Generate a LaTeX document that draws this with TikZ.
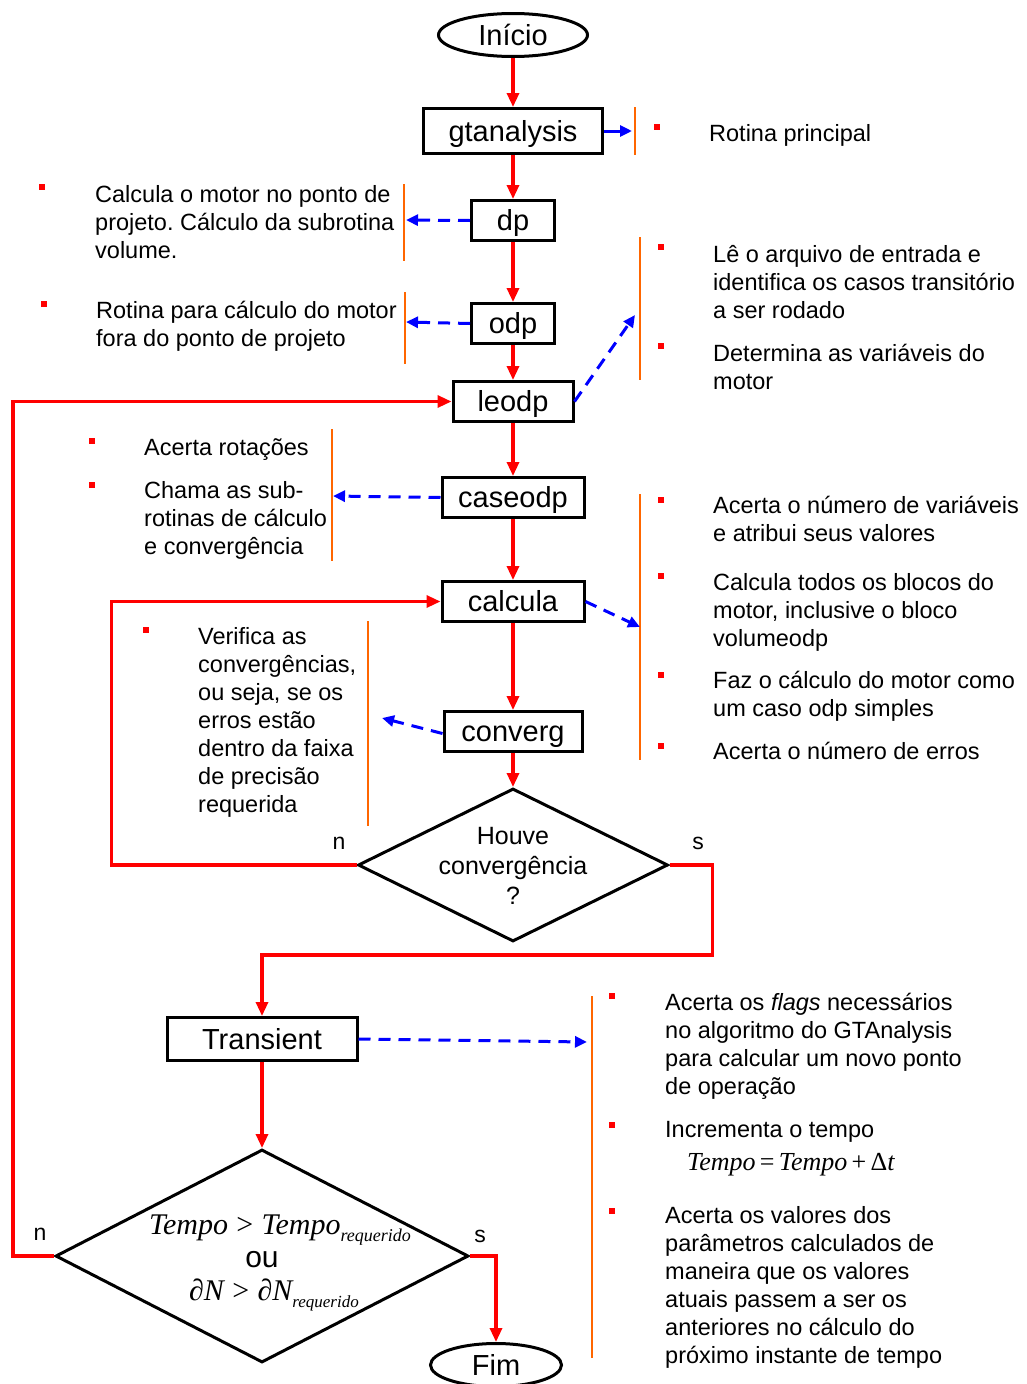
\documentclass[tikz,border=0pt]{standalone}
\usepackage{fontspec}
\setmainfont{Liberation Sans}
\newfontfamily\tnr{Liberation Serif}
\usetikzlibrary{arrows.meta, positioning, shapes.geometric}
\frenchspacing

\definecolor{flowred}{RGB}{255,0,0}
\definecolor{callblue}{RGB}{0,0,255}
\definecolor{barorange}{RGB}{255,102,0}

\begin{document}
\begin{tikzpicture}[
    x=1pt, y=-1pt,
    terminal/.style={
        ellipse, draw, line width=3pt, inner sep=0pt,
        minimum width=149pt, minimum height=43pt,
        font=\fontsize{29}{30}\selectfont
    },
    block/.style={
        rectangle, draw, line width=3pt, inner sep=0pt,
        text height=23pt, text depth=3pt,
        minimum height=40pt, font=\fontsize{29}{30}\selectfont
    },
    decision/.style={diamond, draw, line width=3pt, inner sep=0pt},
    note/.style={
        anchor=north west, inner sep=0pt, align=left,
        font=\fontsize{23.5}{28}\selectfont
    },
    bullet/.style={rectangle, fill=flowred, inner sep=0pt, minimum size=6.5pt},
    bar/.style={draw=barorange, line width=2.5pt},
    flow/.style={draw=flowred, line width=3.2pt, -{Triangle[length=14pt,width=12pt]}},
    call/.style={draw=callblue, line width=3pt, dash pattern=on 12pt off 8pt,
        -{Triangle[length=12pt,width=11pt]}},
    yesno/.style={font=\fontsize{23}{28}\selectfont}
]
\useasboundingbox (0,0) rectangle (1027,1384);

% Main vertical blocks
\node[terminal] (inicio) at (513,35) {Início};
\node[block, minimum width=179pt, minimum height=45pt, below=49pt of inicio] (gtan) {gtanalysis};
\node[block, minimum width=83pt, below=44pt of gtan] (dp) {dp};
\node[block, minimum width=83pt, below=60pt of dp] (odp) {odp};
\node[block, minimum width=120pt, below=35pt of odp] (leodp) {leodp};
\node[block, minimum width=142pt, below=53pt of leodp] (caseodp) {caseodp};
\node[block, minimum width=142pt, below=61pt of caseodp] (calcula) {calcula};
\node[block, minimum width=138pt, below=87pt of calcula] (converg) {converg};
\node[decision, minimum width=310pt, minimum height=153pt, below=34pt of converg] (conv) {};
\node[align=center, font=\fontsize{25}{30}\selectfont] (convtxt) at (513,866) {Houve\\convergência\\?};

% Transient part
\node[block, minimum width=190pt, minimum height=43pt] (trans) at (262,1039) {Transient};
\node[decision, minimum width=413pt, minimum height=213pt, below=86pt of trans] (tempo) {};
\node[align=center, font=\fontsize{30}{33}\selectfont] (tempotxt) at (262,1263) {%
    \hspace{36pt}{\tnr\itshape Tempo\;{\upshape >}\;Tempo\raisebox{-7pt}{\fontsize{18}{18}\selectfont requerido}}\\
    ou\\
    \hspace{24pt}{\tnr{\upshape ∂}\itshape N\;{\upshape >}\;{\upshape ∂}N\raisebox{-7pt}{\fontsize{17}{17}\selectfont requerido}}};
\node[terminal, minimum width=131pt] (fim) at (496,1365) {Fim};

% Labels n / s
\node[yesno] (n1) at (339,843) {n};
\node[yesno] (s1) at (698,843) {s};
\node[yesno] (n2) at (40,1234) {n};
\node[yesno] (s2) at (480,1236) {s};

% Side notes
\node[bullet] (b1) at (657,127) {};
\node[note] (t1) at (709,124) {Rotina principal};
\node[bullet] (b2) at (42,187) {};
\node[note] (t2) at (95,185) {Calcula o motor no ponto de\\projeto. Cálculo da subrotina\\volume.};
\node[bullet] (b3) at (44,304) {};
\node[note] (t3) at (96,301) {Rotina para cálculo do motor\\fora do ponto de projeto};
\node[bullet] (b4) at (661,247) {};
\node[note] (t4) at (713,245) {Lê o arquivo de entrada e\\identifica os casos transitório\\a ser rodado};
\node[bullet] (b5) at (661,346) {};
\node[note] (t5) at (713,344) {Determina as variáveis do\\motor};
\node[bullet] (b6) at (92,441) {};
\node[note] (t6) at (144,438) {Acerta rotações};
\node[bullet] (b7) at (92,485) {};
\node[note] (t7) at (144,481) {Chama as sub-\\rotinas de cálculo\\e convergência};
\node[bullet] (b8) at (661,500) {};
\node[note] (t8) at (713,496) {Acerta o número de variáveis\\e atribui seus valores};
\node[bullet] (b9) at (661,576) {};
\node[note] (t9) at (713,573) {Calcula todos os blocos do\\motor, inclusive o bloco\\volumeodp};
\node[bullet] (b10) at (661,675) {};
\node[note] (t10) at (713,671) {Faz o cálculo do motor como\\um caso odp simples};
\node[bullet] (b11) at (661,746) {};
\node[note] (t11) at (713,742) {Acerta o número de erros};
\node[bullet] (b12) at (146,630) {};
\node[note] (t12) at (198,627) {Verifica as\\convergências,\\ou seja, se os\\erros estão\\dentro da faixa\\de precisão\\requerida};
\node[bullet] (b13) at (612,996) {};
\node[note] (t13) at (665,993) {Acerta os \textit{flags} necessários\\no algoritmo do GTAnalysis\\para calcular um novo ponto\\de operação};
\node[bullet] (b14) at (612,1125) {};
\node[note] (t14) at (665,1121) {Incrementa o tempo\\[5pt]
    \hspace{22pt}{\tnr\fontsize{26}{28}\selectfont\itshape Tempo\,{\upshape =}\,Tempo\,{\upshape +}\,{\upshape Δ}t}};
\node[bullet] (b15) at (612,1211) {};
\node[note] (t15) at (665,1206) {Acerta os valores dos\\parâmetros calculados de\\maneira que os valores\\atuais passem a ser os\\anteriores no cálculo do\\próximo instante de tempo};

% Orange bars
\draw[bar] (635,107) -- (635,155);
\draw[bar] (404,184) -- (404,261);
\draw[bar] (405,292) -- (405,364);
\draw[bar] (640,237) -- (640,380);
\draw[bar] (332,429) -- (332,561);
\draw[bar] (640,494) -- (640,760);
\draw[bar] (368,621) -- (368,826);
\draw[bar] (592,996) -- (592,1358);

% Ends of the calls
\coordinate (e1) at (632,131);
\coordinate (e2) at (406,220);
\coordinate (e3) at (406,322);
\coordinate (e4) at (635,315);
\coordinate (e5) at (333,496);
\coordinate (e6) at (640,627);
\coordinate (e7) at (382,718);
\coordinate (e8) at (587,1042);

% Main arrows
\draw[flow] (inicio) -- (gtan);
\draw[flow] (gtan) -- (dp);
\draw[flow] (dp) -- (odp);
\draw[flow] (odp) -- (leodp);
\draw[flow] (leodp) -- (caseodp);
\draw[flow] (caseodp) -- (calcula);
\draw[flow] (calcula) -- (converg);
\draw[flow] (converg) -- (conv);
\draw[flow] (trans) -- (tempo);

% Loops
\draw[flow] (conv.west) -- ++(-245,0) |- (calcula.west);
\draw[flow] (conv.east) -- ++(43,0) -- ++(0,90) -| (trans.north);
\draw[flow] (tempo.west) -- ++(-41,0) |- (leodp.west);
\draw[flow] (tempo.east) -| (fim.north);

% Calls
\draw[call, solid] (gtan.east) -- (e1);
\draw[call] (dp.west) -- (e2);
\draw[call] (odp.west) -- (e3);
\draw[call] (leodp.east) -- (e4);
\draw[call] (caseodp.west) -- (e5);
\draw[call] (calcula.east) -- (e6);
\draw[call] ([yshift=-2pt]converg.west) -- (e7);
\draw[call] (trans.east) -- (e8);

\end{tikzpicture}
\end{document}
